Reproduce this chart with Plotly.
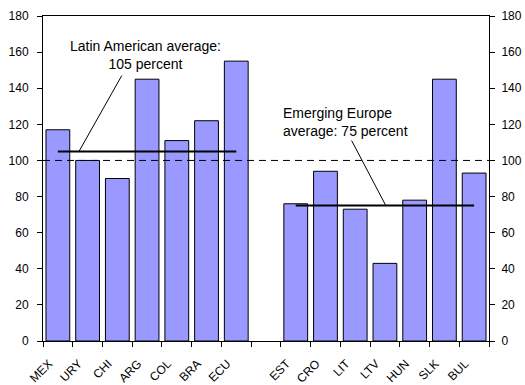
import plotly.graph_objects as go

latam = ["MEX", "URY", "CHI", "ARG", "COL", "BRA", "ECU"]
latam_vals = [117, 100, 90, 145, 111, 122, 155]
europe = ["EST", "CRO", "LIT", "LTV", "HUN", "SLK", "BUL"]
europe_vals = [76, 94, 73, 43, 78, 145, 93]
gap = " "
latam_avg = 105
europe_avg = 75
reference_level = 100
y_ticks = [0, 20, 40, 60, 80, 100, 120, 140, 160, 180]

categories = latam + [gap] + europe
values = latam_vals + [None] + europe_vals

font = dict(family="Liberation Sans, Arial, sans-serif", size=12, color="#000000")
ann_font = dict(family="Liberation Sans, Arial, sans-serif", size=14, color="#000000")

fig = go.Figure()
fig.add_trace(go.Bar(
    x=categories, y=values,
    marker=dict(color="#9999FF", line=dict(color="#000000", width=1)),
    showlegend=False, hoverinfo="skip",
))
# average lines
fig.add_trace(go.Scatter(
    x=[latam[0], latam[-1]], y=[latam_avg, latam_avg], mode="lines",
    line=dict(color="#000000", width=2), showlegend=False, hoverinfo="skip",
))
fig.add_trace(go.Scatter(
    x=[europe[0], europe[-1]], y=[europe_avg, europe_avg], mode="lines",
    line=dict(color="#000000", width=2), showlegend=False, hoverinfo="skip",
))
# invisible trace for right axis
fig.add_trace(go.Scatter(x=[categories[0]], y=[0], yaxis="y2", mode="lines",
                         line=dict(width=0), showlegend=False, hoverinfo="skip"))

# dashed reference line
fig.add_shape(type="line", xref="paper", yref="y", x0=0, x1=1,
              y0=reference_level, y1=reference_level,
              line=dict(color="#000000", width=1, dash="7px,5px"))
# leader lines
fig.add_shape(type="line", xref="x", yref="y", x0=2.15, y0=147, x1=0.71, y1=latam_avg,
              line=dict(color="#000000", width=1))
fig.add_shape(type="line", xref="x", yref="y", x0=9.88, y0=111, x1=11.03, y1=europe_avg,
              line=dict(color="#000000", width=1))

fig.add_annotation(x=2.96, y=158.5, xref="x", yref="y",
                   text="Latin American average:<br>105 percent",
                   showarrow=False, align="center", font=ann_font)
fig.add_annotation(x=7.5, y=121.5, xref="x", yref="y", xanchor="left",
                   text="Emerging Europe<br>average: 75 percent",
                   showarrow=False, align="left", font=ann_font)

axis_common = dict(range=[0, 180], tickvals=y_ticks, ticks="outside", ticklen=5,
                   tickcolor="#000000", showline=True, linecolor="#000000",
                   linewidth=1, showgrid=False, zeroline=False, tickfont=font,
                   automargin=False)

fig.update_layout(
    width=525, height=385,
    margin=dict(l=43, r=36, t=16, b=44),
    paper_bgcolor="#FFFFFF", plot_bgcolor="#FFFFFF",
    bargap=0.2,
    font=font,
    xaxis=dict(type="category", categoryorder="array", categoryarray=categories,
               range=[-0.5, len(categories) - 0.5],
               tickson="boundaries", ticks="outside", ticklen=5, tickcolor="#000000",
               showline=True, linecolor="#000000", linewidth=1, mirror=True,
               tickangle=-45, showgrid=False, tickfont=font, automargin=False,
               ticklabelshift=-9, ticklabelstandoff=10),
    yaxis=dict(**axis_common, ticklabelstandoff=6),
    yaxis2=dict(**axis_common, overlaying="y", side="right", ticklabelstandoff=4),
)

fig.write_html("out.html", config={"displayModeBar": False},
               post_script="document.body.style.margin='0';document.body.style.overflow='hidden';")
